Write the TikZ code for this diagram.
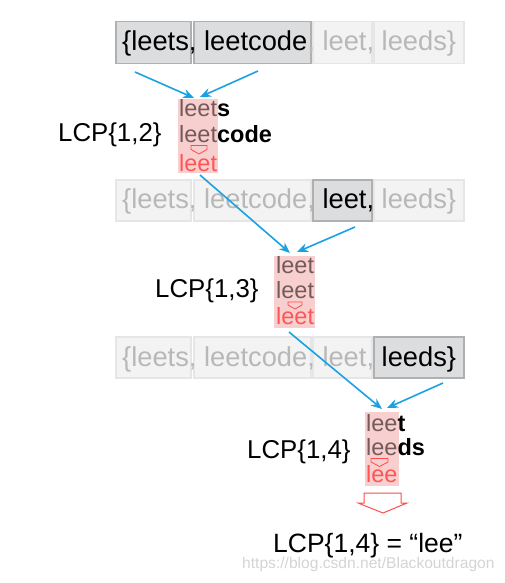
\documentclass[tikz,border=0pt]{standalone}
\usepackage{fontspec}
\setmainfont{Liberation Sans}
\usetikzlibrary{arrows.meta}
\definecolor{cyanarrow}{HTML}{1BA1E2}
\definecolor{idletext}{HTML}{B8B8B8}
\definecolor{idlefill}{HTML}{F3F3F3}
\definecolor{idleline}{HTML}{E6E6E6}
\definecolor{actfill}{HTML}{DCDDDE}
\definecolor{actline}{HTML}{B0B0B0}
\definecolor{pinkfill}{HTML}{F8CFCF}
\definecolor{pinktext}{HTML}{745A5A}
\definecolor{redtext}{HTML}{FF5555}
\definecolor{redline}{HTML}{FF4A4A}
\tikzset{
  idlebox/.style={draw=idleline,fill=idlefill,line width=1.5pt,anchor=north west,inner sep=0pt,minimum height=42pt},
  actbox/.style={draw=actline,fill=actfill,line width=1.5pt,anchor=north west,inner sep=0pt,minimum height=42pt},
  rowtext/.style={anchor=base west,inner sep=0pt,font=\fontsize{27.3}{32}\selectfont},
  lcptext/.style={anchor=base west,inner sep=0pt,font=\fontsize{25.8}{30}\selectfont},
  pinkbox/.style={fill=pinkfill,anchor=north west,inner sep=0pt},
  wordtext/.style={anchor=base west,inner sep=0pt,font=\fontsize{23.5}{26}\selectfont},
  bluearrow/.style={draw=cyanarrow,line width=1.6pt,-{Stealth[length=11pt,width=9pt]}},
  smallarrow/.style={draw=redline,line width=0.8pt,line join=miter},
  bigarrow/.style={draw=redline,line width=1pt,line join=miter},
}
\begin{document}
\begin{tikzpicture}[x=1pt,y=-1pt]
\useasboundingbox (0,0) rectangle (505,583);
% row 1
\node[actbox,minimum width=75pt] (r1b1) at (115,21) {};
\node[actbox,minimum width=117pt] (r1b2) at (193,21) {};
\node[idlebox,minimum width=59pt] (r1b3) at (312,21) {};
\node[idlebox,minimum width=90pt] (r1b4) at (373,21) {};
\node[rowtext] (r1t) at (122,51) {\textcolor{black}{\{leets, leetcode}\textcolor{idletext}{, leet, leeds\}}};
% row 2
\node[idlebox,minimum width=75pt,minimum height=41pt] (r2b1) at (115,179) {};
\node[idlebox,minimum width=117pt,minimum height=41pt] (r2b2) at (193,179) {};
\node[actbox,minimum width=59pt,minimum height=41pt] (r2b3) at (312,179) {};
\node[idlebox,minimum width=90pt,minimum height=41pt] (r2b4) at (373,179) {};
\node[rowtext] (r2t) at (122,208) {\textcolor{idletext}{\{leets, leetcode,\ }\textcolor{black}{leet,}\textcolor{idletext}{\ leeds\}}};
% row 3
\node[idlebox,minimum width=75pt,minimum height=41pt] (r3b1) at (115,336) {};
\node[idlebox,minimum width=117pt,minimum height=41pt] (r3b2) at (193,336) {};
\node[idlebox,minimum width=59pt,minimum height=41pt] (r3b3) at (312,336) {};
\node[actbox,minimum width=90pt,minimum height=41pt] (r3b4) at (373,336) {};
\node[rowtext] (r3t) at (122,366) {\textcolor{idletext}{\{leets, leetcode, leet,\ }\textcolor{black}{leeds\}}};
% pink box 1
\node[pinkbox,minimum width=40pt,minimum height=74pt] (p1) at (178,99) {};
\node[wordtext] (p1a) at (179,116.5) {\textcolor{pinktext}{leet}\textcolor{black}{\bfseries s}};
\node[wordtext] (p1b) at (179,142.5) {\textcolor{pinktext}{leet}\textcolor{black}{\bfseries code}};
\node[wordtext] (p1c) at (179,171) {\textcolor{redtext}{leet}};
\draw[smallarrow] (191,145.5) -- (207,145.5) -- (207,149.5) -- (199,154) -- (191,149.5) -- cycle;
\node[lcptext] (l12) at (58,142) {LCP\{1,2\}};
% pink box 2
\node[pinkbox,minimum width=41pt,minimum height=72pt] (p2) at (274,256) {};
\node[wordtext] (p2a) at (276,273) {\textcolor{pinktext}{leet}};
\node[wordtext] (p2b) at (276,298) {\textcolor{pinktext}{leet}};
\node[wordtext] (p2c) at (276,324) {\textcolor{redtext}{leet}};
\draw[smallarrow] (288,302) -- (302,302) -- (302,305) -- (295,309) -- (288,305) -- cycle;
\node[lcptext] (l13) at (155,297) {LCP\{1,3\}};
% pink box 3
\node[pinkbox,minimum width=34pt,minimum height=74pt] (p3) at (365,412) {};
\node[wordtext] (p3a) at (366,431) {\textcolor{pinktext}{lee}\textcolor{black}{\bfseries t}};
\node[wordtext] (p3b) at (366,455) {\textcolor{pinktext}{lee}\textcolor{black}{\bfseries ds}};
\node[wordtext] (p3c) at (366,482) {\textcolor{redtext}{lee}};
\draw[smallarrow] (371,458.5) -- (388,458.5) -- (388,462) -- (379.5,466.5) -- (371,462) -- cycle;
\node[lcptext] (l14) at (247,458) {LCP\{1,4\}};
% arrows
\coordinate (s1a) at (135,72);
\coordinate (e1a) at (194,98);
\coordinate (s1b) at (258,71);
\coordinate (e1b) at (200,97);
\coordinate (s2a) at (200,175);
\coordinate (e2a) at (290,253);
\coordinate (s2b) at (355,227);
\coordinate (e2b) at (297,252);
\coordinate (s3a) at (289,332);
\coordinate (e3a) at (382,409);
\coordinate (s3b) at (443,383);
\coordinate (e3b) at (387,408);
\draw[bluearrow] (s1a) -- (e1a);
\draw[bluearrow] (s1b) -- (e1b);
\draw[bluearrow] (s2a) -- (e2a);
\draw[bluearrow] (s2b) -- (e2b);
\draw[bluearrow] (s3a) -- (e3a);
\draw[bluearrow] (s3b) -- (e3b);
% big arrow
\draw[bigarrow] (364,493) -- (401,493) -- (401,503) -- (407,503) -- (383,513) -- (358,503) -- (364,503) -- cycle;
% result
\node[anchor=base west,inner sep=0pt,font=\fontsize{26.5}{30}\selectfont] (res) at (273,552) {LCP\{1,4\} = “lee”};
\node[anchor=base west,inner sep=0pt,font=\fontsize{15.6}{18}\selectfont,text=black!17] (wm) at (242,568) {https://blog.csdn.net/Blackoutdragon};
\end{tikzpicture}
\end{document}
